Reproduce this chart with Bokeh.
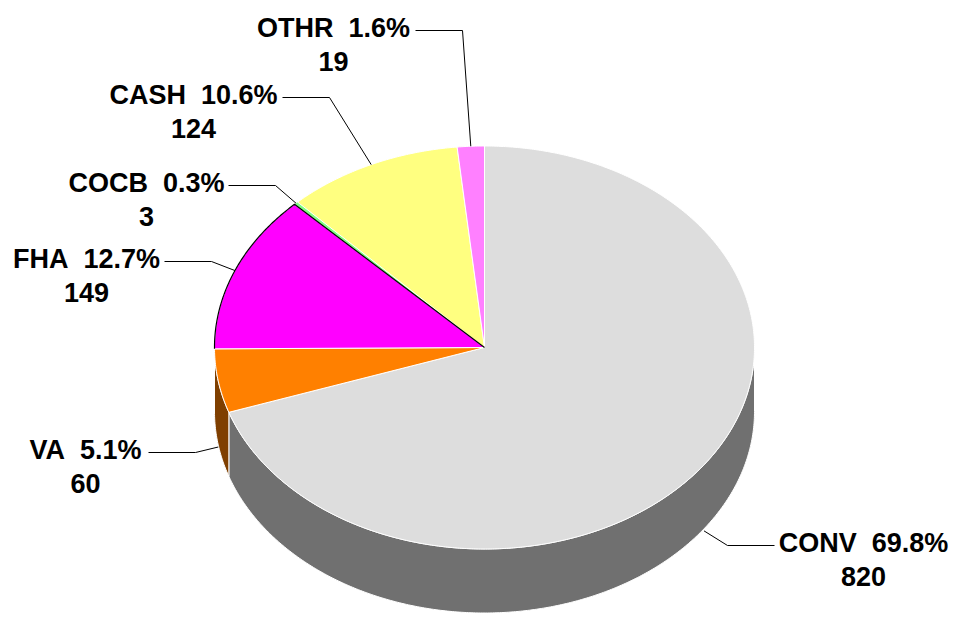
import math
from bokeh.plotting import figure
from bokeh.models import Range1d, ColumnDataSource
from bokeh.core.properties import value
from bokeh.embed import file_html
from bokeh.resources import INLINE

# ---- data ----
categories = ["CONV", "VA", "FHA", "COCB", "CASH", "OTHR"]
counts = [820, 60, 149, 3, 124, 19]

# ---- styles ----
top_colors = ["#DDDDDD", "#FF8000", "#FF00FF", "#80FF80", "#FFFF80", "#FF80FF"]
side_colors = ["#707070", "#7F3F00", "#800080", "#408040", "#808040", "#804080"]

# ---- layout ----
label_cx = [863, 85, 86, 146, 193, 333]
label_base = [542, 449, 258, 182, 94, 27]
LINE_GAP = 34
elbow_x = [727, 195, 211, 275, 329, 462]
LEADER_LEN = 47
CX, CY, RX, RY, DEPTH = 484, 347, 270, 201.5, 64

W, H = 956, 617
p = figure(width=W, height=H, x_range=Range1d(0, W), y_range=Range1d(H, 0),
           output_backend="svg", toolbar_location=None, min_border=0,
           x_axis_location=None, y_axis_location=None)
p.grid.visible = False
p.outline_line_color = None
p.background_fill_color = "white"


def pt(theta, dy=0.0):
    t = math.radians(theta)
    return CX + RX * math.cos(t), CY - RY * math.sin(t) + dy


def arc(a, b, dy=0.0):
    n = max(2, int(abs(b - a) / 0.5) + 1)
    xs, ys = [], []
    for i in range(n + 1):
        th = a + (b - a) * i / n
        x, y = pt(th, dy)
        xs.append(x)
        ys.append(y)
    return xs, ys


total = sum(counts)
angles = []
a0 = 90.0
for c in counts:
    a1 = a0 - 360.0 * c / total
    angles.append((a0, a1))
    a0 = a1

# side walls (front half: theta in [-180, 0])
side_xs, side_ys, side_cols = [], [], []
for (a0, a1), col in zip(angles, side_colors):
    hi = min(a0, 0.0)
    lo = max(a1, -180.0)
    if hi - lo > 0.01:
        tx, ty = arc(hi, lo)
        bx, by = arc(lo, hi, DEPTH)
        side_xs.append(tx + bx)
        side_ys.append(ty + by)
        side_cols.append(col)
p.patches(xs="xs", ys="ys", fill_color="col", line_color="white", line_width=1,
          source=ColumnDataSource(dict(xs=side_xs, ys=side_ys, col=side_cols)))

# top slices
top_xs, top_ys = [], []
for (a0, a1) in angles:
    ax, ay = arc(a0, a1)
    top_xs.append([CX] + ax)
    top_ys.append([CY] + ay)
line_cols = ["white" if cat != "COCB" else None for cat in categories]
p.patches(xs="xs", ys="ys", fill_color="col", line_color="lc", line_width=1,
          source=ColumnDataSource(dict(xs=top_xs, ys=top_ys, col=top_colors, lc=line_cols)))

# black edge on FHA arc and FHA/COCB boundary
fi = categories.index("FHA")
fa0, fa1 = angles[fi]
ax, ay = arc(fa0, fa1)
p.line(ax + [CX], ay + [CY], line_color="black", line_width=1.2)

# labels and leaders
for i, cat in enumerate(categories):
    a0, a1 = angles[i]
    m = (a0 + a1) / 2
    x, y = pt(m)
    if math.sin(math.radians(m)) < 0:
        y += DEPTH + 2
    ly = label_base[i] + 3
    ex = elbow_x[i]
    sx = ex - LEADER_LEN if label_cx[i] < CX else ex + LEADER_LEN
    p.line([sx, ex, x], [ly, ly, y], line_color="black", line_width=1)

line1 = [f"{c}\u00a0 {n / total * 100:.1f}%" for c, n in zip(categories, counts)]
line2 = [str(n) for n in counts]
src = ColumnDataSource(dict(x=label_cx, y1=label_base, y2=[b + LINE_GAP for b in label_base],
                            t1=line1, t2=line2))
for yk, tk in (("y1", "t1"), ("y2", "t2")):
    p.text(x="x", y=yk, text=tk, source=src, text_align="center", text_baseline="alphabetic",
           text_font=value("Liberation Sans"), text_font_style="bold",
           text_font_size="27px", text_color="black")

open("out.html", "w").write(file_html(p, INLINE))
